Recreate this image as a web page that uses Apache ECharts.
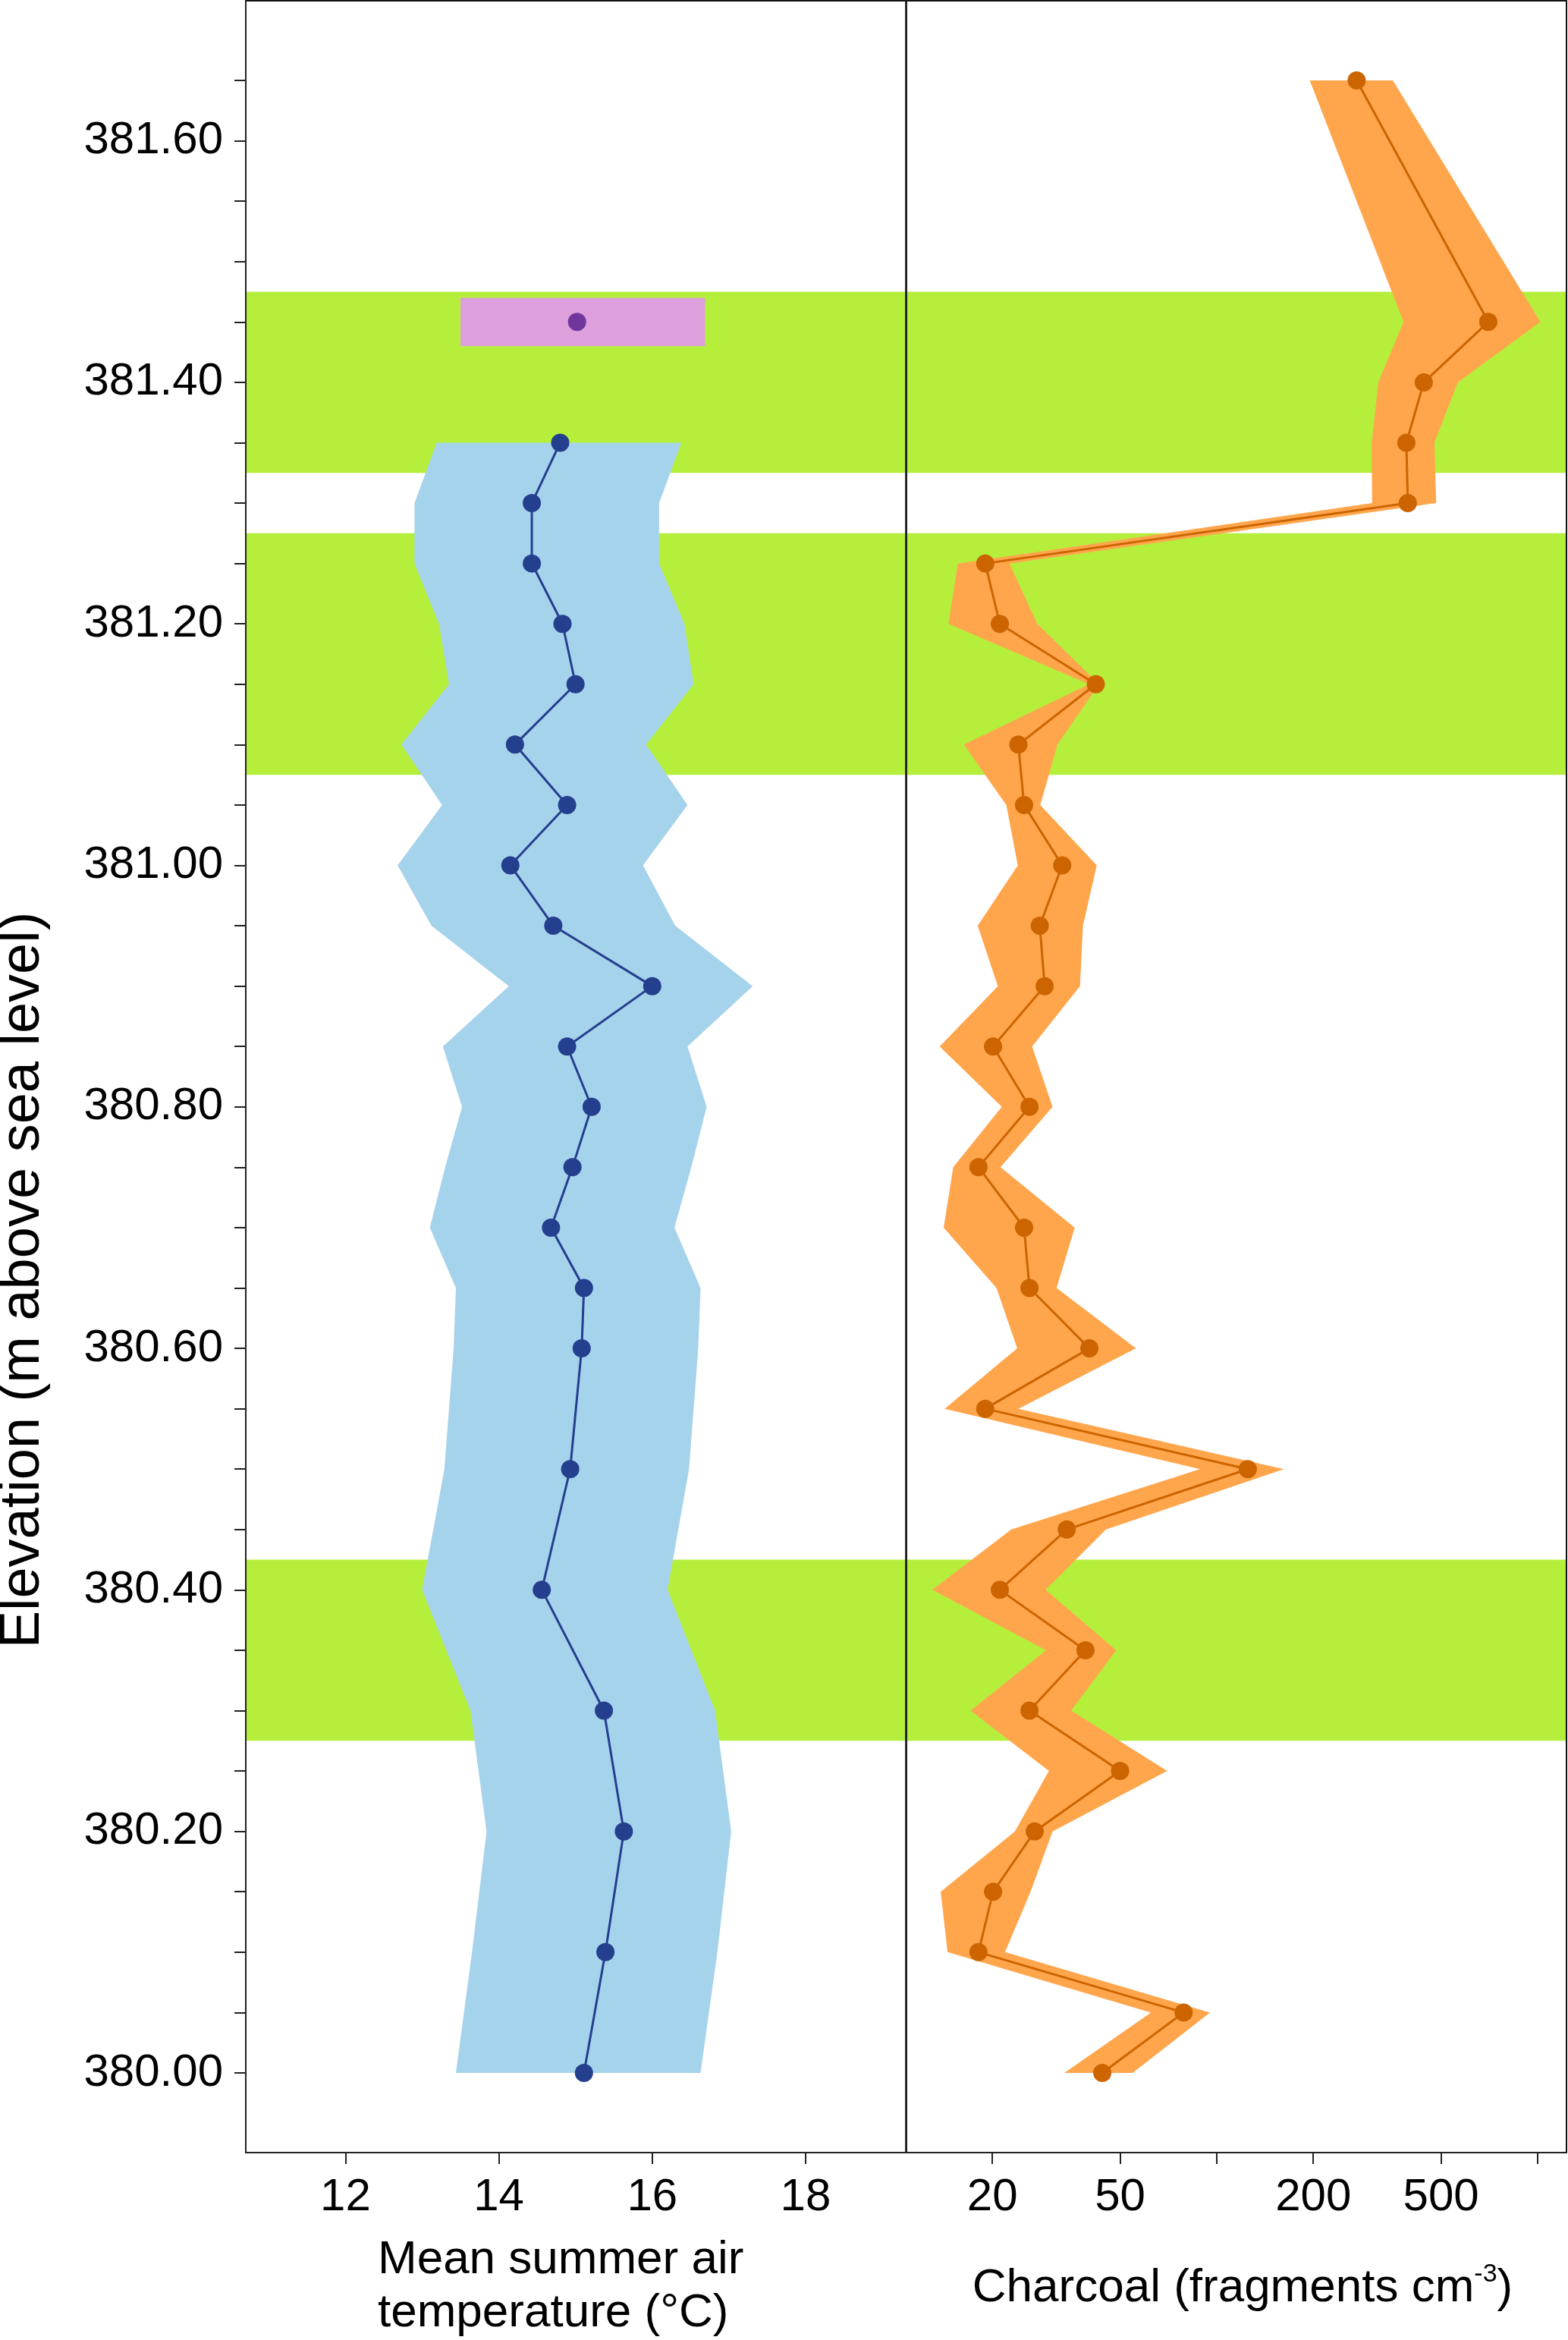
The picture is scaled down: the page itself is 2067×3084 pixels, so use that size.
<!DOCTYPE html>
<html>
<head>
<meta charset="utf-8">
<script src="https://cdn.jsdelivr.net/npm/echarts@6/dist/echarts.min.js"></script>
<style>
html, body { margin: 0; padding: 0; background: #fff; }
#main { width: 2067px; height: 3084px; }
</style>
</head>
<body>
<div id="main"></div>
<script>
// elevation of the samples (m above sea level)
var elevTemp = [381.35, 381.30, 381.25, 381.20, 381.15, 381.10, 381.05, 381.00, 380.95, 380.90, 380.85,
  380.80, 380.75, 380.70, 380.65, 380.60, 380.50, 380.40, 380.30, 380.20, 380.10, 380.00];
// mean summer air temperature and its error band
var tempMean = [14.80, 14.43, 14.43, 14.83, 15.00, 14.21, 14.89, 14.15, 14.71, 16.00, 14.89,
  15.21, 14.96, 14.68, 15.11, 15.08, 14.93, 14.56, 15.37, 15.63, 15.39, 15.11];
var tempLow = [13.19, 12.90, 12.90, 13.22, 13.35, 12.73, 13.26, 12.68, 13.12, 14.13, 13.27,
  13.52, 13.30, 13.10, 13.44, 13.41, 13.29, 13.00, 13.63, 13.84, 13.65, 13.44];
var tempHigh = [16.38, 16.09, 16.09, 16.42, 16.54, 15.92, 16.46, 15.88, 16.30, 17.31, 16.46,
  16.71, 16.51, 16.29, 16.63, 16.60, 16.48, 16.20, 16.82, 17.03, 16.85, 16.63];

// single separate estimate
var singleElev = [381.45];
var singleTemp = [15.02];
var singleRange = [13.50, 16.69];
var singleSpan = [381.43, 381.47];

// charcoal (fragments cm-3)
var elevChar = [381.65, 381.45, 381.40, 381.35, 381.30, 381.25, 381.20, 381.15, 381.10, 381.05, 381.00,
  380.95, 380.90, 380.85, 380.80, 380.75, 380.70, 380.65, 380.60, 380.55, 380.50, 380.45, 380.40,
  380.35, 380.30, 380.25, 380.20, 380.15, 380.10, 380.05, 380.00];
var charMean = [273, 702, 442, 390, 394, 19.0, 21.1, 42.0, 24.1, 25.1, 33.0,
  28.1, 29.1, 20.1, 26.1, 18.1, 25.1, 26.1, 40.1, 19.0, 125, 34.1, 21.1,
  39.0, 26.1, 50.0, 27.1, 20.1, 18.1, 78.9, 44.0];
var charLow = [195, 382, 319, 304, 305, 15.6, 14.6, 40.0, 16.3, 22.1, 24.0,
  18.0, 20.8, 13.7, 21.4, 15.1, 14.1, 20.6, 23.9, 14.2, 88.7, 22.9, 13.0,
  29.4, 17.1, 30.0, 23.5, 13.8, 14.5, 62.4, 33.5];
var charHigh = [354, 1020, 564, 477, 483, 22.6, 27.6, 43.0, 31.9, 28.2, 42.3,
  38.3, 37.5, 26.6, 30.8, 21.2, 36.1, 31.7, 56.0, 24.1, 162, 45.2, 29.3,
  48.6, 35.2, 70.1, 30.8, 26.3, 21.9, 95.3, 54.7];

// shaded intervals [bottom, top]
var greenBands = [[381.325, 381.475], [381.075, 381.275], [380.275, 380.425]];

// ticks and labels
var elevTicks = [380.00, 380.05, 380.10, 380.15, 380.20, 380.25, 380.30, 380.35, 380.40, 380.45,
  380.50, 380.55, 380.60, 380.65, 380.70, 380.75, 380.80, 380.85, 380.90, 380.95,
  381.00, 381.05, 381.10, 381.15, 381.20, 381.25, 381.30, 381.35, 381.40, 381.45,
  381.50, 381.55, 381.60, 381.65];
var elevLabels = [380.00, 380.20, 380.40, 380.60, 380.80, 381.00, 381.20, 381.40, 381.60];
var tempTicks = [12, 14, 16, 18];
var charTicks = [20, 50, 100, 200, 500, 1000];
var charLabels = [20, 50, 200, 500];

var FONT = '"Liberation Sans", Arial, sans-serif';
var lg = function (v) { return Math.log10(v); };

var elevMin = 379.934, elevMax = 381.716;
var tempMin = 10.70, tempMax = 19.31;
var charMin = 1.032, charMax = 3.090; // log10 space

function bandRenderer(elevs, lows, highs, toX, color) {
  return function (params, api) {
    var pts = [];
    for (var i = 0; i < elevs.length; i++) pts.push(api.coord([toX(lows[i]), elevs[i]]));
    for (var j = elevs.length - 1; j >= 0; j--) pts.push(api.coord([toX(highs[j]), elevs[j]]));
    return { type: 'polygon', shape: { points: pts }, style: { fill: color } };
  };
}

function greenRenderer(xRef) {
  return function (params, api) {
    var cs = params.coordSys;
    var y0 = api.coord([xRef, api.value(0)])[1];
    var y1 = api.coord([xRef, api.value(1)])[1];
    return { type: 'rect', shape: { x: cs.x, y: y1, width: cs.width, height: y0 - y1 },
      style: { fill: '#b5ef3c' } };
  };
}

var ident = function (v) { return v; };

var yAxisCommon = {
  type: 'value', min: elevMin, max: elevMax, z: 20,
  splitLine: { show: false },
  axisLine: { show: true, lineStyle: { color: '#222', width: 2 } }
};

var option = {
  backgroundColor: '#ffffff',
  animation: false,
  grid: [
    { left: 324, top: 1, width: 870.4, height: 2836, show: true, z: 20,
      borderColor: '#111', borderWidth: 2, backgroundColor: 'transparent' },
    { left: 1194.4, top: 1, width: 870.6, height: 2836, show: true, z: 20,
      borderColor: '#111', borderWidth: 2, backgroundColor: 'transparent' }
  ],
  xAxis: [
    { gridIndex: 0, type: 'value', min: tempMin, max: tempMax, z: 20,
      splitLine: { show: false },
      axisLine: { show: true, onZero: false, lineStyle: { color: '#222', width: 2 } },
      axisTick: { show: true, length: 15, customValues: tempTicks, lineStyle: { color: '#222', width: 2 } },
      axisLabel: { customValues: tempTicks, fontSize: 60, fontFamily: FONT, color: '#000', margin: 29 } },
    { gridIndex: 1, type: 'value', min: charMin, max: charMax, z: 20,
      splitLine: { show: false },
      axisLine: { show: true, onZero: false, lineStyle: { color: '#222', width: 2 } },
      axisTick: { show: true, length: 15, customValues: charTicks.map(lg), lineStyle: { color: '#222', width: 2 } },
      axisLabel: { customValues: charLabels.map(lg), fontSize: 60, fontFamily: FONT, color: '#000', margin: 29,
        formatter: function (v) { return String(Math.round(Math.pow(10, v))); } } }
  ],
  yAxis: [
    Object.assign({}, yAxisCommon, { gridIndex: 0,
      axisTick: { show: true, length: 15, customValues: elevTicks, lineStyle: { color: '#222', width: 2 } },
      axisLabel: { customValues: elevLabels, fontSize: 60, fontFamily: FONT, color: '#000', margin: 30,
        formatter: function (v) { return v.toFixed(2); } } }),
    Object.assign({}, yAxisCommon, { gridIndex: 1,
      axisTick: { show: false }, axisLabel: { show: false } })
  ],
  series: [
    { type: 'custom', xAxisIndex: 0, yAxisIndex: 0, z: 1, silent: true,
      renderItem: greenRenderer(tempMin), data: greenBands },
    { type: 'custom', xAxisIndex: 1, yAxisIndex: 1, z: 1, silent: true,
      renderItem: greenRenderer(charMin), data: greenBands },
    { type: 'custom', xAxisIndex: 0, yAxisIndex: 0, z: 2, silent: true,
      renderItem: bandRenderer(elevTemp, tempLow, tempHigh, ident, '#a6d3ec'),
      data: [[tempMean[0], elevTemp[0]]] },
    { type: 'custom', xAxisIndex: 0, yAxisIndex: 0, z: 2, silent: true,
      renderItem: function (params, api) {
        var p0 = api.coord([singleRange[0], singleSpan[1]]);
        var p1 = api.coord([singleRange[1], singleSpan[0]]);
        return { type: 'rect', shape: { x: p0[0], y: p0[1], width: p1[0] - p0[0], height: p1[1] - p0[1] },
          style: { fill: '#dda0dd' } };
      },
      data: [[singleTemp[0], singleElev[0]]] },
    { type: 'line', xAxisIndex: 0, yAxisIndex: 0, z: 3, silent: true,
      data: tempMean.map(function (t, i) { return [t, elevTemp[i]]; }),
      symbol: 'circle', symbolSize: 24, showSymbol: true,
      itemStyle: { color: '#243f8e' }, lineStyle: { color: '#243f8e', width: 3 } },
    { type: 'scatter', xAxisIndex: 0, yAxisIndex: 0, z: 4, silent: true,
      data: singleTemp.map(function (t, i) { return [t, singleElev[i]]; }),
      symbol: 'circle', symbolSize: 24, itemStyle: { color: '#561b8d' } },
    { type: 'custom', xAxisIndex: 1, yAxisIndex: 1, z: 2, silent: true,
      renderItem: bandRenderer(elevChar, charLow, charHigh, lg, '#ffa64d'),
      data: [[lg(charMean[0]), elevChar[0]]] },
    { type: 'line', xAxisIndex: 1, yAxisIndex: 1, z: 3, silent: true,
      data: charMean.map(function (c, i) { return [lg(c), elevChar[i]]; }),
      symbol: 'circle', symbolSize: 24, showSymbol: true,
      itemStyle: { color: '#cc6400' }, lineStyle: { color: '#cc6400', width: 3 } }
  ],
  graphic: [
    { type: 'text', x: 31, y: 1687, rotation: Math.PI / 2, silent: true,
      style: { text: 'Elevation (m above sea level)', fontSize: 74, fontFamily: FONT, fill: '#000',
        align: 'center', verticalAlign: 'middle', textAlign: 'center', textVerticalAlign: 'middle' } },
    { type: 'text', x: 498, y: 3014, silent: true,
      style: { text: 'Mean summer air\ntemperature (°C)', fontSize: 62, lineHeight: 70, fontFamily: FONT, fill: '#000',
        align: 'left', verticalAlign: 'middle', textAlign: 'left', textVerticalAlign: 'middle' } },
    { type: 'text', x: 1638, y: 3016, silent: true,
      style: { text: 'Charcoal (fragments cm{sup|-3})', fontSize: 62, lineHeight: 70, fontFamily: FONT, fill: '#000',
        align: 'center', verticalAlign: 'middle', textAlign: 'center', textVerticalAlign: 'middle',
        rich: { sup: { fontSize: 34, lineHeight: 54, verticalAlign: 'top', fontFamily: FONT, fill: '#000' } } } }
  ]
};

var chart = echarts.init(document.getElementById('main'));
chart.setOption(option);
</script>
</body>
</html>
